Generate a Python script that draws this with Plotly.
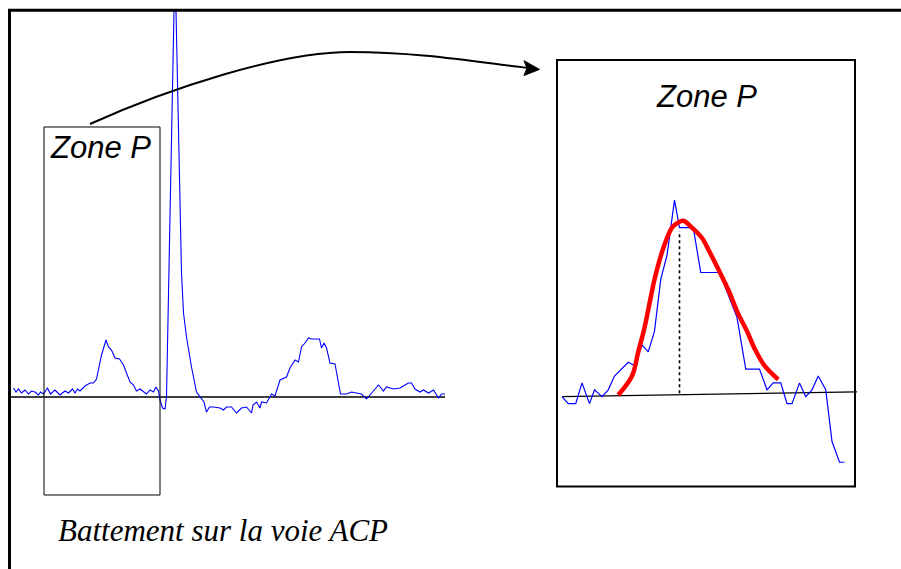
import plotly.graph_objects as go

# ---------------- data ----------------
# Full beat on the ACP lead: time (ms) and amplitude (mV)
beat_t_ms = [1, 6, 11, 17, 24, 31, 37, 44, 51, 55, 61, 69, 75, 84, 94, 104, 111, 119, 124, 129,
             134, 144, 154, 161, 167, 174, 177, 186, 191, 197, 204, 213, 221, 227, 234, 241, 247,
             254, 261, 267, 274, 281, 286, 291, 294, 299, 304, 307, 322, 326, 337, 341, 347, 357,
             367, 377, 382, 387, 393, 401, 414, 421, 427, 437, 447, 457, 467, 477, 480, 487, 494,
             497, 507, 517, 524, 534, 547, 554, 564, 571, 577, 584, 591, 597, 613, 617, 622, 627,
             634, 644, 651, 655, 667, 677, 687, 697, 707, 717, 731, 741, 747, 761, 774, 784, 791,
             797, 804, 814, 821, 831, 841, 851, 857, 864]
beat_mv = [0.09, 0.05, 0.08, 0.04, 0.07, 0.03, 0.06, 0.05, 0.02, 0.05, 0.03, 0.09, 0.03, 0.07,
           0.02, 0.06, 0.04, 0.08, 0.04, 0.08, 0.06, 0.11, 0.14, 0.14, 0.18, 0.35, 0.42, 0.57,
           0.50, 0.47, 0.39, 0.38, 0.32, 0.24, 0.15, 0.12, 0.06, 0.08, 0.05, 0.03, 0.07, 0.05,
           0.10, 0.06, -0.03, -0.11, -0.12, 0.00, 3.86, 3.86, 1.24, 0.84, 0.60, 0.30, 0.05,
           -0.02, -0.05, -0.15, -0.10, -0.10, -0.11, -0.13, -0.10, -0.10, -0.16, -0.11, -0.10,
           -0.16, -0.08, -0.05, -0.11, -0.05, -0.06, 0.03, 0.01, 0.17, 0.20, 0.29, 0.37, 0.35,
           0.50, 0.54, 0.59, 0.58, 0.58, 0.49, 0.54, 0.49, 0.34, 0.33, 0.12, 0.03, 0.03, 0.05,
           0.04, 0.03, -0.02, 0.04, 0.12, 0.06, 0.10, 0.08, 0.09, 0.12, 0.14, 0.14, 0.08, 0.05,
           0.07, 0.04, 0.07, -0.01, 0.03, 0.03]
beat_base_t = [-6, 864]
beat_base_mv = [0.0, 0.0]

# Zoom on the P zone: raw signal, fitted curve, baseline and apex marker
zone_t_ms = [64, 69, 75, 80, 86, 90, 96, 101, 106, 117, 122, 128, 133, 138, 143, 148, 154, 158,
             169, 175, 190, 204, 211, 222, 228, 233, 239, 244, 248, 254, 259, 264, 269, 275,
             280, 286, 290]
zone_mv = [0.00, -0.02, -0.02, 0.04, -0.02, 0.02, 0.00, 0.02, 0.06, 0.10, 0.09, 0.15, 0.13,
           0.19, 0.34, 0.41, 0.57, 0.49, 0.49, 0.36, 0.36, 0.23, 0.08, 0.08, 0.02, 0.04, 0.04,
           -0.02, -0.02, 0.04, 0.00, 0.02, 0.06, 0.02, -0.13, -0.19, -0.19]
fit_t_ms = [109, 120, 125, 130, 134, 138, 145, 152, 157, 161, 168, 176, 182, 189, 197, 205,
            212, 218, 226, 237]
fit_mv = [0.005, 0.06, 0.13, 0.20, 0.27, 0.34, 0.43, 0.49, 0.505, 0.51, 0.49, 0.46, 0.42,
          0.37, 0.31, 0.24, 0.19, 0.14, 0.09, 0.05]
zone_base_t = [64, 300]
zone_base_mv = [0.0, 0.014]
apex_t = [158, 158]
apex_mv = [0.01, 0.48]

# Texts
zone_label = "Zone P"
caption = "Battement sur la voie ACP"

# ---------------- layout helpers ----------------
W, H = 901, 569


def px(x):
    return x / W


def py(y):
    return 1 - y / H


fig = go.Figure()

fig.add_trace(go.Scatter(x=beat_base_t, y=beat_base_mv, mode="lines",
                         line=dict(color="black", width=1.3), xaxis="x", yaxis="y",
                         hoverinfo="skip"))
fig.add_trace(go.Scatter(x=beat_t_ms, y=beat_mv, mode="lines",
                         line=dict(color="#0000ff", width=1.1), xaxis="x", yaxis="y"))

fig.add_trace(go.Scatter(x=zone_base_t, y=zone_base_mv, mode="lines",
                         line=dict(color="black", width=1.2), xaxis="x2", yaxis="y2",
                         hoverinfo="skip"))
fig.add_trace(go.Scatter(x=apex_t, y=apex_mv, mode="lines",
                         line=dict(color="black", width=1.6, dash="dot"), xaxis="x2", yaxis="y2"))
fig.add_trace(go.Scatter(x=zone_t_ms, y=zone_mv, mode="lines",
                         line=dict(color="#0000ff", width=1.2), xaxis="x2", yaxis="y2"))
fig.add_trace(go.Scatter(x=fit_t_ms, y=fit_mv, mode="lines",
                         line=dict(color="#ff0000", width=4.5, shape="spline"),
                         xaxis="x2", yaxis="y2"))

shapes = []
# outer frame
shapes.append(dict(type="rect", xref="paper", yref="paper", x0=px(9.5), y0=-0.05, x1=1.05,
                   y1=py(10.3), line=dict(color="black", width=3), layer="above"))
# left zone box (in beat axis units)
shapes.append(dict(type="rect", xref="x", yref="y", x0=62, x1=294, y0=2.70, y1=-0.98,
                   line=dict(color="black", width=1)))
# inset box (in zoom axis units)
shapes.append(dict(type="rect", xref="x2", yref="y2", x0=60, x1=298.4, y0=0.976, y1=-0.260,
                   line=dict(color="black", width=2)))
# curved arrow
p = lambda x, y: f"{px(x):.5f},{py(y):.5f}"
path = ("M " + p(90, 124) + " C " + p(170, 88) + " " + p(280, 52) + " " + p(350, 52) +
        " C " + p(420, 52) + " " + p(480, 62.5) + " " + p(527, 67.8))
shapes.append(dict(type="path", xref="paper", yref="paper", path=path,
                   line=dict(color="black", width=2)))
head = "M " + p(539.5, 69.4) + " L " + p(524, 60.7) + " L " + p(527, 68) + " L " + p(524, 75.5) + " Z"
shapes.append(dict(type="path", xref="paper", yref="paper", path=head,
                   fillcolor="black", line=dict(color="black", width=1)))

annotations = [
    dict(text=zone_label, xref="paper", yref="paper", x=px(100), y=py(147), showarrow=False,
         xanchor="center", yanchor="middle",
         font=dict(family="Liberation Sans, Arial", size=31, color="black", style="italic")),
    dict(text=zone_label, xref="paper", yref="paper", x=px(706), y=py(96), showarrow=False,
         xanchor="center", yanchor="middle",
         font=dict(family="Liberation Sans, Arial", size=31, color="black", style="italic")),
    dict(text=caption, xref="paper", yref="paper", x=px(56), y=py(530), showarrow=False,
         xanchor="left", yanchor="middle",
         font=dict(family="Liberation Serif, Times New Roman", size=31, color="black",
                   style="italic")),
]

fig.update_layout(
    width=W, height=H, margin=dict(l=0, r=0, t=0, b=0),
    paper_bgcolor="white", plot_bgcolor="rgba(0,0,0,0)", showlegend=False,
    xaxis=dict(domain=[0, 1], range=[-26, 1776], visible=False, anchor="y"),
    yaxis=dict(domain=[0, 1], range=[-1.72, 3.97], visible=False, anchor="x"),
    xaxis2=dict(domain=[0, 1], range=[-385.6, 335.2], visible=False, anchor="y2"),
    yaxis2=dict(domain=[0, 1], range=[-0.4994, 1.1499], visible=False, anchor="x2"),
    shapes=shapes, annotations=annotations,
)

fig.write_html("out.html")
